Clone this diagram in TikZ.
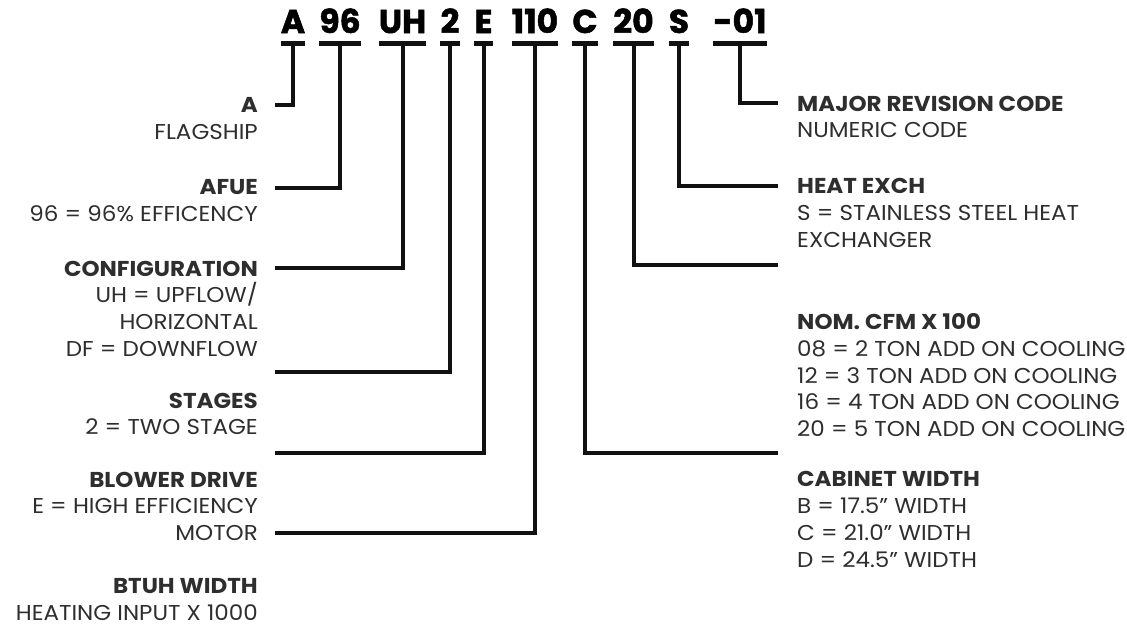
\documentclass[tikz,border=0pt]{standalone}
\usepackage{fontspec}
\setmainfont{Poppins}[FakeStretch=1.07]
\newfontfamily\codefont{Poppins}[UprightFeatures={FakeBold=1.5}, BoldFeatures={FakeBold=1.5}]
\usetikzlibrary{positioning}
\definecolor{ink}{HTML}{2E2E2E}
\definecolor{rule}{HTML}{111111}

\begin{document}
\begin{tikzpicture}[
x=1pt, y=-1pt,
code/.style={inner xsep=0pt, inner ysep=10.5pt, anchor=base, text depth=0pt, text=black, font=\fontsize{33}{33}\selectfont\codefont\bfseries},
lbl/.style={inner sep=0pt, align=right, anchor=north east, text=ink, font=\fontsize{21.5}{26.7}\selectfont},
rlbl/.style={lbl, align=left, anchor=north west},
bar/.style={draw=rule, line width=4.5pt},
link/.style={draw=rule, line width=4pt}
]
\useasboundingbox (0,0) rectangle (1127,627);

% model number, one node per field
\foreach \t/\x/\n in {A/293/cA, 96/340/c96, UH/402.5/cUH, 2/450/c2, E/483.5/cE, 110/535/c110, C/585/cC, 20/633.5/c20, S/679/cS, -01/740/c01}{
  \node[code] (\n) at (\x,33) {\t};
  \draw[bar] (\n.south west) -- (\n.south east);
}

% left column
\node[lbl] (gA) at (258,97.5) {\textbf{A}\\FLAGSHIP};
\node[lbl] (gAfue) at (258,179.5) {\textbf{AFUE}\\96 = 96\% EFFICENCY};
\node[lbl] (gConf) at (258,260.5) {\textbf{CONFIGURATION}\\UH = UPFLOW/\\HORIZONTAL\\DF = DOWNFLOW};
\node[lbl] (gStage) at (258,392.5) {\textbf{STAGES}\\2 = TWO STAGE};
\node[lbl] (gBlower) at (258,471.5) {\textbf{BLOWER DRIVE}\\E = HIGH EFFICIENCY\\MOTOR};
\node[lbl] (gBtuh) at (258,578.5) {\textbf{BTUH WIDTH}\\HEATING INPUT X 1000};

% right column
\node[rlbl] (gRev) at (797,95.5) {\textbf{MAJOR REVISION CODE}\\NUMERIC CODE};
\node[rlbl] (gHx) at (797,178.5) {\textbf{HEAT EXCH}\\S = STAINLESS STEEL HEAT\\EXCHANGER};
\node[rlbl] (gCfm) at (797,313.5) {\textbf{NOM. CFM X 100}\\08 = 2 TON ADD ON COOLING\\12 = 3 TON ADD ON COOLING\\16 = 4 TON ADD ON COOLING\\20 = 5 TON ADD ON COOLING};
\node[rlbl] (gCab) at (797,471.5) {\textbf{CABINET WIDTH}\\B = 17.5” WIDTH\\C = 21.0” WIDTH\\D = 24.5” WIDTH};

% line ends
\coordinate (jA) at (275,105);
\coordinate (j96) at (275,188);
\coordinate (jUH) at (275,268);
\coordinate (j2) at (275,372);
\coordinate (jE) at (275,453);
\coordinate (j110) at (275,533);
\coordinate (j01) at (778,103);
\coordinate (jS) at (778,186);
\coordinate (j20) at (778,265);
\coordinate (jC) at (778,453);

\draw[link] (cA.south) |- (jA);
\draw[link] (c96.south) |- (j96);
\draw[link] (cUH.south) |- (jUH);
\draw[link] (c2.south) |- (j2);
\draw[link] (cE.south) |- (jE);
\draw[link] (c110.south) |- (j110);
\draw[link] (c01.south) |- (j01);
\draw[link] (cS.south) |- (jS);
\draw[link] (c20.south) |- (j20);
\draw[link] (cC.south) |- (jC);
\end{tikzpicture}
\end{document}
